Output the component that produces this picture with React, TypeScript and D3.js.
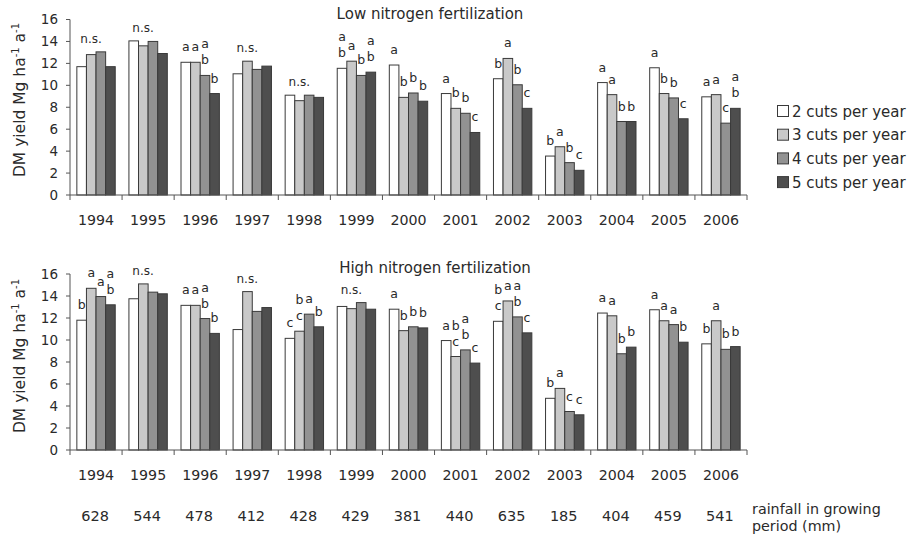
import React from "react";
import * as d3 from "d3";

const years = ["1994","1995","1996","1997","1998","1999","2000","2001","2002","2003","2004","2005","2006"];
const rainfall = ["628","544","478","412","428","429","381","440","635","185","404","459","541"];
const seriesNames = ["2 cuts per year","3 cuts per year","4 cuts per year","5 cuts per year"];
const seriesColors = ["#ffffff","#c9c9c9","#929292","#4e4e4e"];
const yTicks = [0,2,4,6,8,10,12,14,16];

// Low nitrogen fertilization
const low2 = [11.7, 14.05, 12.1, 11.05, 9.1, 11.55, 11.85, 9.25, 10.6, 3.55, 10.25, 11.6, 8.95];
const low3 = [12.8, 13.6, 12.1, 12.2, 8.6, 12.2, 8.9, 7.9, 12.45, 4.4, 9.15, 9.25, 9.15];
const low4 = [13.05, 14.0, 10.9, 11.45, 9.1, 10.9, 9.3, 7.45, 10.05, 2.95, 6.7, 8.85, 6.55];
const low5 = [11.7, 12.9, 9.25, 11.75, 8.9, 11.2, 8.55, 5.7, 7.9, 2.25, 6.7, 6.95, 7.9];
const lowLetters = [
  ["n.s."],["n.s."],["a","a","a/b","b"],["n.s."],["n.s."],["a/b","a","b","a/b"],
  ["a","b","b","b"],["a","b","b","c"],["b","a","b","c"],["b","a","b","c"],
  ["a","a","b","b"],["a","b","b","c"],["a","a","c","a/b"]
];

// High nitrogen fertilization
const high2 = [11.8, 13.75, 13.15, 10.95, 10.15, 13.05, 12.8, 9.95, 11.7, 4.7, 12.45, 12.75, 9.65];
const high3 = [14.7, 15.1, 13.15, 14.4, 10.8, 12.85, 10.85, 8.5, 13.55, 5.6, 12.2, 11.75, 11.75];
const high4 = [13.95, 14.35, 11.95, 12.6, 12.35, 13.4, 11.2, 9.1, 12.1, 3.5, 8.75, 11.4, 9.15];
const high5 = [13.2, 14.2, 10.6, 12.95, 11.2, 12.8, 11.1, 7.9, 10.65, 3.2, 9.35, 9.8, 9.4];
const highLetters = [
  ["b","a","a","a/b"],["n.s."],["a","a","a/b","b"],["n.s."],["c","b/c","a","b"],["n.s."],
  ["a","b","b","b"],["a","b/c","a/b","c"],["b/c","a","a/b","c"],["b","a","c","c"],
  ["a","a","b","b"],["a","a","a","b"],["b","a","b","b"]
];

const FONT = "'DejaVu Sans', sans-serif";
const TXT = "#2a2a2a";

const x0 = d3.scaleBand<string>().domain(years).range([70, 747]).paddingInner(0.263).paddingOuter(0.1315);
const x1 = d3.scaleBand<number>().domain([0,1,2,3]).range([0, x0.bandwidth()]).padding(0);

type PanelProps = { title: string; titleX: number; yTop: number; yBottom: number; series: number[][]; letters: string[][]; yTitleY: number; };

function Panel({ title, titleX, yTop, yBottom, series, letters, yTitleY }: PanelProps) {
  const y = d3.scaleLinear().domain([0, 16]).range([yBottom, yTop]);
  const step = x0.step();
  const boundaries = d3.range(years.length + 1).map(i => 70 + i * step);
  return (
    <g>
      <text x={titleX} y={yTop - 1} textAnchor="middle" fontSize={15} fontFamily={FONT} fill={TXT}>{title}</text>
      <text transform={`translate(25,${yTitleY}) rotate(-90)`} textAnchor="middle" fontSize={15.5} fontFamily={FONT} fill={TXT}>
        DM yield Mg ha<tspan dy={-6} fontSize={10}>-1</tspan><tspan dy={6}> a</tspan><tspan dy={-6} fontSize={10}>-1</tspan>
      </text>
      {years.map((yr, i) => (
        <g key={yr} transform={`translate(${x0(yr)},0)`}>
          {series.map((s, k) => (
            <rect key={k} x={x1(k)} y={y(s[i])} width={x1.bandwidth()} height={y(0) - y(s[i])}
              fill={seriesColors[k]} stroke="#3a3a3a" strokeWidth={1} />
          ))}
        </g>
      ))}
      {years.map((yr, i) => {
        const lab = letters[i];
        if (lab.length === 1) {
          const mx = d3.max(series.map(s => s[i])) as number;
          return (
            <text key={"ns" + yr} x={(x0(yr) as number) + x0.bandwidth() / 2 - 5} y={y(mx) - 9}
              textAnchor="middle" fontSize={12} fontFamily={FONT} fill={TXT}>{lab[0]}</text>
          );
        }
        return (
          <g key={"l" + yr}>
            {lab.map((l, k) => {
              const parts = l.split("/");
              const cx = (x0(yr) as number) + (x1(k) as number) + x1.bandwidth() / 2;
              const base = y(series[k][i]) - 11;
              return parts.map((p, j) => (
                <text key={k + "-" + j} x={cx} y={base - (parts.length - 1 - j) * 16}
                  textAnchor="middle" fontSize={12.5} fontFamily={FONT} fill={TXT}>{p}</text>
              ));
            })}
          </g>
        );
      })}
      <line x1={70} x2={70} y1={y(0)} y2={y(16)} stroke="#555" strokeWidth={1} />
      {yTicks.map(t => (
        <g key={t}>
          <line x1={66} x2={70} y1={y(t)} y2={y(t)} stroke="#555" strokeWidth={1} />
          <text x={58} y={y(t)} dy="0.36em" textAnchor="end" fontSize={13.5} fontFamily={FONT} fill={TXT}>{t}</text>
        </g>
      ))}
      <line x1={70} x2={747} y1={y(0)} y2={y(0)} stroke="#555" strokeWidth={1} />
      {boundaries.map((b, i) => (
        <line key={i} x1={b} x2={b} y1={y(0)} y2={y(0) + 5} stroke="#555" strokeWidth={1} />
      ))}
      {years.map(yr => (
        <text key={"yl" + yr} x={(x0(yr) as number) + x0.bandwidth() / 2} y={y(0) + 30}
          textAnchor="middle" fontSize={14.2} fontFamily={FONT} fill={TXT}>{yr}</text>
      ))}
    </g>
  );
}

export default function App() {
  return (
    <svg width={911} height={535} style={{ position: "absolute", left: 0, top: 0, background: "#fff" }}>
      <rect width={911} height={535} fill="#fff" />
      <Panel title="Low nitrogen fertilization" titleX={430} yTop={19.5} yBottom={195}
        series={[low2, low3, low4, low5]} letters={lowLetters} yTitleY={100} />
      <Panel title="High nitrogen fertilization" titleX={435} yTop={274} yBottom={450}
        series={[high2, high3, high4, high5]} letters={highLetters} yTitleY={356} />
      {seriesNames.map((n, k) => {
        const cy = 111 + k * 23.7;
        return (
          <g key={n}>
            <rect x={777.5} y={cy - 5.5} width={11} height={11} fill={seriesColors[k]} stroke="#3a3a3a" strokeWidth={1} />
            <text x={792} y={cy + 5.5} fontSize={15} fontFamily={FONT} fill={TXT}>{n}</text>
          </g>
        );
      })}
      {years.map((yr, i) => (
        <text key={"rf" + yr} x={(x0(yr) as number) + x0.bandwidth() / 2 - 1} y={521}
          textAnchor="middle" fontSize={14.5} fontFamily={FONT} fill={TXT}>{rainfall[i]}</text>
      ))}
      <text x={752} y={514} fontSize={14.3} fontFamily={FONT} fill={TXT}>rainfall in growing</text>
      <text x={752} y={530.5} fontSize={14.3} fontFamily={FONT} fill={TXT}>period (mm)</text>
    </svg>
  );
}
